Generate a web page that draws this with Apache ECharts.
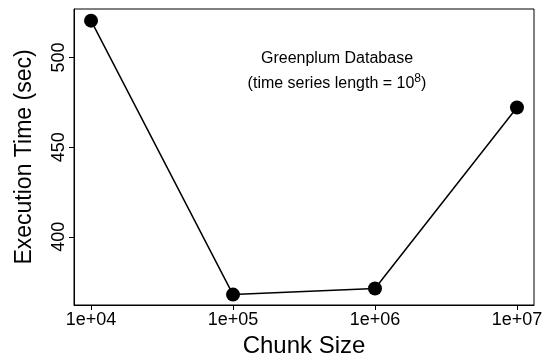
<!DOCTYPE html>
<html>
<head>
<meta charset="utf-8">
<script src="https://cdn.jsdelivr.net/npm/echarts@6/dist/echarts.min.js"></script>
<style>
  html, body { margin: 0; padding: 0; background: #fff; }
  #chart { width: 545px; height: 358px; }
</style>
</head>
<body>
<div id="chart"></div>
<script>
  // data
  const chunkSizes = [1e4, 1e5, 1e6, 1e7];
  const execTimes = [520.5, 367.8, 371.2, 472.1];
  const xTicks = [1e4, 1e5, 1e6, 1e7];
  const yTicks = [400, 450, 500];

  const font = "'Liberation Sans', Arial, Helvetica, sans-serif";

  let chart = echarts.init(document.getElementById('chart'), null, { renderer: 'canvas' });

  chart.setOption({
    backgroundColor: '#fff',
    animation: false,
    title: {
      text: 'Greenplum Database',
      subtext: '{m|(time series length = 10}{sup|8}{m|)}',
      left: 332,
      top: 46,
      textAlign: 'center',
      itemGap: 6,
      textStyle: { fontFamily: font, fontSize: 16, fontWeight: 'normal', color: '#000' },
      subtextStyle: {
        fontFamily: font, fontSize: 16, color: '#000',
        rich: {
          m: { fontFamily: font, fontSize: 16, color: '#000', verticalAlign: 'bottom', lineHeight: 18 },
          sup: { fontFamily: font, fontSize: 12, color: '#000', verticalAlign: 'bottom', padding: [0, 0, 7, 0] }
        }
      }
    },
    grid: {
      left: 74, right: 11, top: 9, bottom: 53,
      show: true, borderColor: '#000', borderWidth: 1,
      containLabel: false,
      outerBoundsMode: 'none'
    },
    xAxis: {
      type: 'log',
      logBase: 10,
      min: Math.pow(10, 3.88),
      max: Math.pow(10, 7.12),
      name: 'Chunk Size',
      nameLocation: 'middle',
      nameGap: 28,
      nameTextStyle: { fontFamily: font, fontSize: 24, color: '#000' },
      axisLine: { show: true, lineStyle: { color: '#000', width: 1 } },
      axisTick: { show: true, length: 5, customValues: xTicks, lineStyle: { color: '#000' } },
      axisLabel: {
        customValues: xTicks,
        margin: 6,
        fontFamily: font, fontSize: 18, color: '#000',
        formatter: function (v) {
          let e = Math.round(Math.log10(v));
          return '1e+' + String(e).padStart(2, '0');
        }
      },
      splitLine: { show: false },
      minorTick: { show: false }
    },
    yAxis: {
      type: 'value',
      min: 362,
      max: 527,
      name: 'Execution Time (sec)',
      nameLocation: 'middle',
      nameGap: 38,
      nameTextStyle: { fontFamily: font, fontSize: 23, color: '#000' },
      axisLine: { show: true, lineStyle: { color: '#000', width: 1 } },
      axisTick: { show: true, length: 5, customValues: yTicks, lineStyle: { color: '#000' } },
      axisLabel: {
        customValues: yTicks,
        rotate: 90,
        margin: 6,
        fontFamily: font, fontSize: 18, color: '#000'
      },
      splitLine: { show: false }
    },
    series: [{
      type: 'line',
      data: chunkSizes.map((c, i) => [c, execTimes[i]]),
      symbol: 'circle',
      symbolSize: 14,
      lineStyle: { color: '#000', width: 1.5 },
      itemStyle: { color: '#000' },
      emphasis: { disabled: true }
    }]
  });
</script>
</body>
</html>
